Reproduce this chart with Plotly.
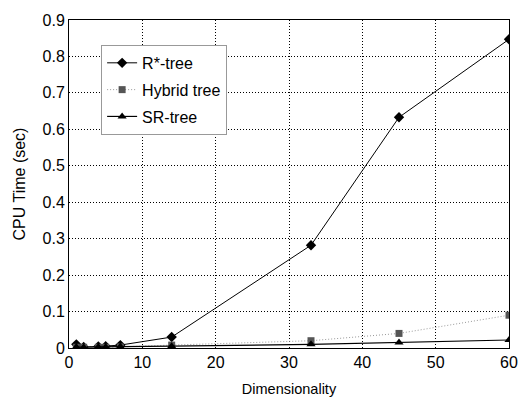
import plotly.graph_objects as go

dims = [1, 2, 4, 5, 7, 14, 33, 45, 60]
rstar = [0.010, 0.003, 0.004, 0.005, 0.008, 0.030, 0.282, 0.633, 0.847]
hybrid = [0.002, 0.002, 0.002, 0.002, 0.003, 0.008, 0.020, 0.040, 0.090]
srtree = [0.003, 0.002, 0.003, 0.003, 0.004, 0.005, 0.010, 0.015, 0.022]
names = ["R*-tree", "Hybrid tree", "SR-tree"]
xticks = [0, 10, 20, 30, 40, 50, 60]
yticks = [0, 0.1, 0.2, 0.3, 0.4, 0.5, 0.6, 0.7, 0.8, 0.9]
yticktext = ["0", "0.1", "0.2", "0.3", "0.4", "0.5", "0.6", "0.7", "0.8", "0.9"]

fig = go.Figure()
fig.add_trace(go.Scatter(x=dims, y=rstar, name=names[0], mode="lines+markers",
                         legendgroup="a",
                         line=dict(color="black", width=1),
                         marker=dict(symbol="diamond", size=8, color="black")))
fig.add_trace(go.Scatter(x=dims, y=hybrid, name=names[1], mode="lines+markers",
                         legendgroup="b",
                         line=dict(color="#999999", width=1, dash="1px,2px"),
                         marker=dict(symbol="square", size=7, color="#555555")))
fig.add_trace(go.Scatter(x=dims, y=srtree, name=names[2], mode="lines+markers",
                         legendgroup="c",
                         line=dict(color="black", width=1.2),
                         marker=dict(symbol="triangle-up", size=8, color="black")))

font = dict(family="Liberation Sans, Arial, sans-serif", color="black")
grid = dict(showgrid=True, gridcolor="black", griddash="1px,2px", gridwidth=1,
            showline=True, linecolor="black", linewidth=1, mirror=True,
            zeroline=False, ticks="", ticklabeloverflow="allow", automargin=False)
fig.update_layout(
    width=519, height=398,
    margin=dict(l=69, r=10, t=20, b=49.5),
    paper_bgcolor="white", plot_bgcolor="white",
    font=dict(size=16, **font),
    showlegend=True,
    legend=dict(x=0.073, y=0.924, xanchor="left", yanchor="top",
                bgcolor="white", bordercolor="#999999", borderwidth=1,
                font=dict(size=16, **font), itemwidth=30, tracegroupgap=3,
                traceorder="grouped"),
    xaxis=dict(range=[0, 60], tickvals=xticks, ticktext=[str(v) for v in xticks],
               title=dict(text="Dimensionality", font=dict(size=14.5, **font), standoff=13),
               tickfont=dict(size=16, **font), **grid),
    yaxis=dict(range=[0, 0.9], tickvals=yticks, ticktext=yticktext,
               title=dict(text="CPU Time (sec)", font=dict(size=16, **font), standoff=12),
               tickfont=dict(size=16, **font), **grid),
)
fig.write_html("out.html")
